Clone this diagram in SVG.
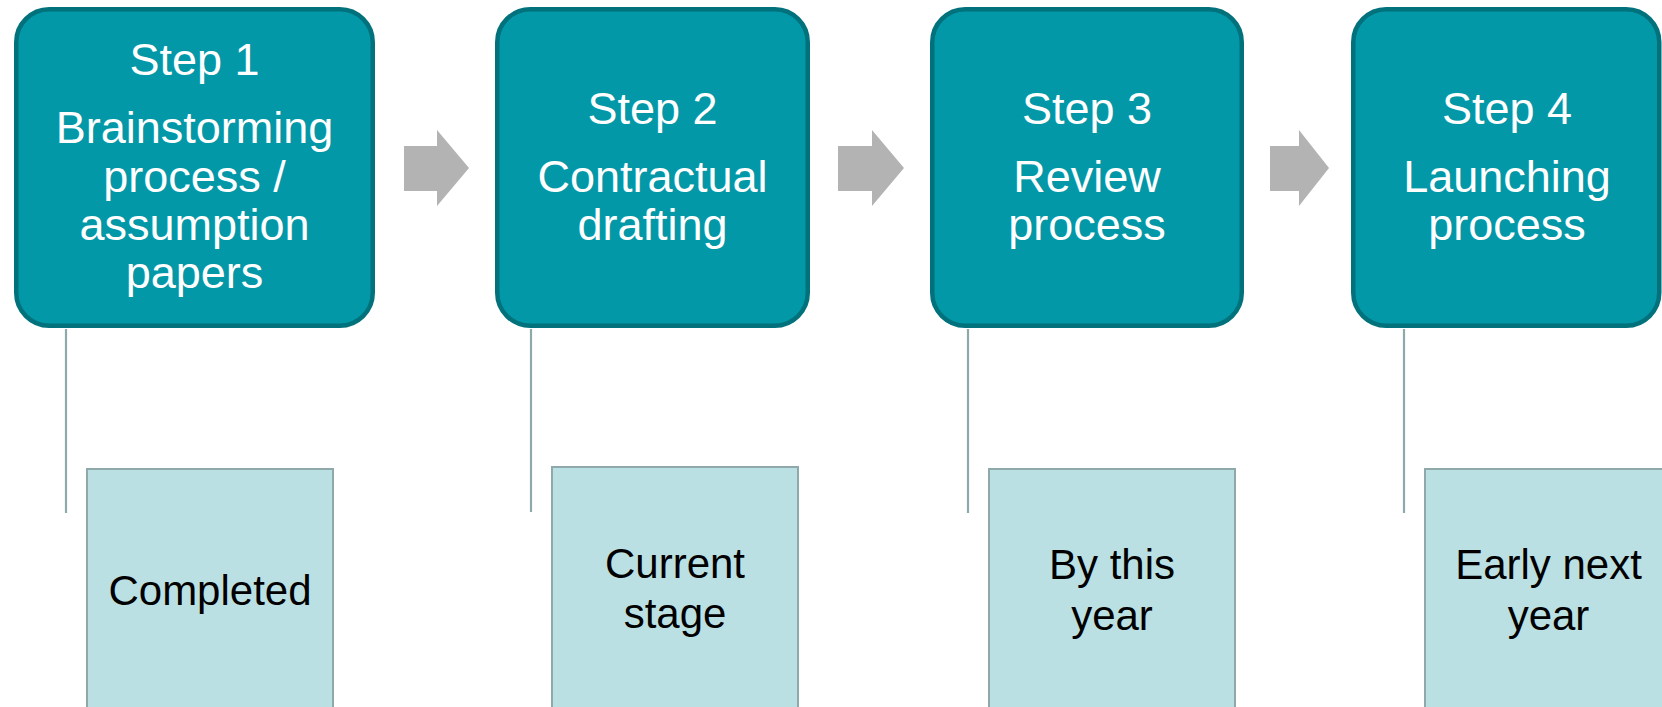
<svg xmlns="http://www.w3.org/2000/svg" width="1662" height="707" viewBox="0 0 1662 707">
  <style>
    .step { fill: #0398A8; stroke: #01717C; stroke-width: 4.5; }
    .step-text { font-family: "Liberation Sans", Arial, sans-serif; font-size: 45px; fill: #FFFFFF; text-anchor: middle; }
    .note { fill: #BBE0E3; stroke: #8FA9AB; stroke-width: 2; }
    .note-text { font-family: "Liberation Sans", Arial, sans-serif; font-size: 42px; fill: #000000; text-anchor: middle; }
    .link { stroke: #8FA9AB; stroke-width: 2.2; fill: none; }
    .flow { fill: #B3B3B3; }
  </style>
  <rect width="1662" height="707" fill="#FFFFFF"/>

  <!-- leader lines and flow arrows -->
  <g id="connectors">
    <line class="link" x1="66" y1="329" x2="66" y2="513"/>
    <line class="link" x1="531" y1="329" x2="531" y2="512"/>
    <line class="link" x1="968" y1="329" x2="968" y2="513"/>
    <line class="link" x1="1404" y1="329" x2="1404" y2="513"/>
    <polygon class="flow" points="404,146 437,146 437,130 469,168 437,206 437,191 404,191"/>
    <polygon class="flow" points="838,146 872,146 872,130 904,168 872,206 872,191 838,191"/>
    <polygon class="flow" points="1270,146 1299,146 1299,130 1329,168 1299,206 1299,191 1270,191"/>
  </g>

  <!-- step boxes -->
  <g id="step1">
    <rect class="step" x="16.25" y="9.25" width="356.5" height="316.5" rx="33"/>
    <text class="step-text" x="194.5" y="75">Step 1</text>
    <text class="step-text" x="194.5" y="143">Brainstorming</text>
    <text class="step-text" x="194.5" y="192">process /</text>
    <text class="step-text" x="194.5" y="240">assumption</text>
    <text class="step-text" x="194.5" y="288">papers</text>
  </g>
  <g id="step2">
    <rect class="step" x="497.25" y="9.25" width="310.5" height="316.5" rx="33"/>
    <text class="step-text" x="652.5" y="124">Step 2</text>
    <text class="step-text" x="652.5" y="192">Contractual</text>
    <text class="step-text" x="652.5" y="240">drafting</text>
  </g>
  <g id="step3">
    <rect class="step" x="932.25" y="9.25" width="309.5" height="316.5" rx="33"/>
    <text class="step-text" x="1087" y="124">Step 3</text>
    <text class="step-text" x="1087" y="192">Review</text>
    <text class="step-text" x="1087" y="240">process</text>
  </g>
  <g id="step4">
    <rect class="step" x="1353.25" y="9.25" width="306" height="316.5" rx="33"/>
    <text class="step-text" x="1507" y="124">Step 4</text>
    <text class="step-text" x="1507" y="192">Launching</text>
    <text class="step-text" x="1507" y="240">process</text>
  </g>

  <!-- timing notes -->
  <g id="note1">
    <rect class="note" x="87" y="469" width="246" height="250"/>
    <text class="note-text" x="210" y="605">Completed</text>
  </g>
  <g id="note2">
    <rect class="note" x="552" y="467" width="246" height="250"/>
    <text class="note-text" x="675" y="578">Current</text>
    <text class="note-text" x="675" y="628">stage</text>
  </g>
  <g id="note3">
    <rect class="note" x="989" y="469" width="246" height="250"/>
    <text class="note-text" x="1112" y="579">By this</text>
    <text class="note-text" x="1112" y="630">year</text>
  </g>
  <g id="note4">
    <rect class="note" x="1425" y="469" width="246" height="250"/>
    <text class="note-text" x="1548.5" y="579">Early next</text>
    <text class="note-text" x="1548.5" y="630">year</text>
  </g>
</svg>
